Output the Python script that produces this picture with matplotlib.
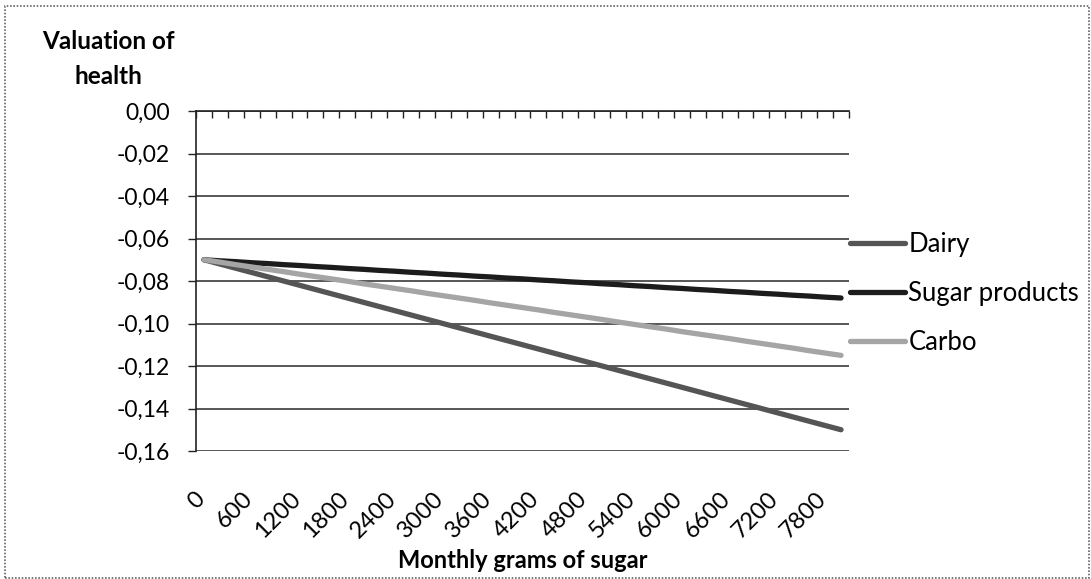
import matplotlib
matplotlib.use("Agg")
import matplotlib.pyplot as plt
from matplotlib.patches import Rectangle
from matplotlib.transforms import ScaledTranslation

# Data (monthly grams of sugar, 200 g steps)
grams = list(range(0, 8001, 200))
dairy = [-0.0700, -0.0720, -0.0740, -0.0760, -0.0780, -0.0800, -0.0820, -0.0840,
         -0.0860, -0.0880, -0.0900, -0.0920, -0.0940, -0.0960, -0.0980, -0.1000,
         -0.1020, -0.1040, -0.1060, -0.1080, -0.1100, -0.1120, -0.1140, -0.1160,
         -0.1180, -0.1200, -0.1220, -0.1240, -0.1260, -0.1280, -0.1300, -0.1320,
         -0.1340, -0.1360, -0.1380, -0.1400, -0.1420, -0.1440, -0.1460, -0.1480,
         -0.1500]
sugar_products = [-0.0700, -0.0705, -0.0709, -0.0714, -0.0718, -0.0723, -0.0727, -0.0732,
                  -0.0736, -0.0741, -0.0745, -0.0750, -0.0754, -0.0759, -0.0763, -0.0768,
                  -0.0772, -0.0777, -0.0781, -0.0786, -0.0790, -0.0795, -0.0799, -0.0804,
                  -0.0808, -0.0813, -0.0817, -0.0822, -0.0826, -0.0831, -0.0835, -0.0840,
                  -0.0844, -0.0849, -0.0853, -0.0858, -0.0862, -0.0867, -0.0871, -0.0876,
                  -0.0880]
carbo = [-0.0700, -0.0711, -0.0723, -0.0734, -0.0745, -0.0756, -0.0768, -0.0779,
         -0.0790, -0.0801, -0.0813, -0.0824, -0.0835, -0.0846, -0.0858, -0.0869,
         -0.0880, -0.0891, -0.0903, -0.0914, -0.0925, -0.0936, -0.0948, -0.0959,
         -0.0970, -0.0981, -0.0993, -0.1004, -0.1015, -0.1026, -0.1038, -0.1049,
         -0.1060, -0.1071, -0.1083, -0.1094, -0.1105, -0.1116, -0.1128, -0.1139,
         -0.1150]
y_ticks = [0.00, -0.02, -0.04, -0.06, -0.08, -0.10, -0.12, -0.14, -0.16]

plt.rcParams['font.family'] = ['Lato', 'DejaVu Sans']

fig = plt.figure(figsize=(10.91, 5.79), dpi=100)
ax = fig.add_axes([196 / 1091, 1 - 451 / 579, 653 / 1091, 340 / 579])

# categories are evenly spaced like an Excel category axis
idx = list(range(len(grams)))
ax.plot(idx, dairy, color='#555555', lw=3.8, label='Dairy', solid_capstyle='round')
ax.plot(idx, sugar_products, color='#1c1c1c', lw=3.8, label='Sugar products', solid_capstyle='round')
ax.plot(idx, carbo, color='#a5a5a5', lw=3.8, label='Carbo', solid_capstyle='round')

ax.set_xlim(-0.5, len(grams) - 0.5)
ax.set_ylim(-0.16, 0.0)
ax.set_yticks(y_ticks)
ax.set_yticklabels([f"{v:.2f}".replace('.', ',') for v in y_ticks], fontsize=16.5)
ax.yaxis.grid(True, color='#2a2a2a', lw=1.1)
ax.set_axisbelow(True)

# labels every third category, category axis drawn at y = 0 (top)
lab_idx = idx[::3]
ax.set_xticks(lab_idx)
ax.set_xticklabels([str(grams[i]) for i in lab_idx], rotation=45, ha='right', va='top', fontsize=17)
ax.set_xticks([i - 0.5 for i in idx] + [idx[-1] + 0.5], minor=True)
ax.tick_params(axis='x', which='major', bottom=False, top=False, pad=23)
ax.tick_params(axis='x', which='minor', bottom=False, top=True, direction='in', length=5, width=1, color='#222')
ax.tick_params(axis='y', length=6, width=1, color='#222', pad=13)
shift = ScaledTranslation(5 / 100, 0, fig.dpi_scale_trans)
for lab in ax.get_xticklabels():
    lab.set_transform(lab.get_transform() + shift)

for s in ['right', 'bottom']:
    ax.spines[s].set_visible(False)
for s in ['left', 'top']:
    ax.spines[s].set_color('#222')
    ax.spines[s].set_linewidth(1.2)

ax.set_xlabel('Monthly grams of sugar', fontsize=17, fontweight='bold', va='center')
ax.xaxis.set_label_coords(0.5, -(560 - 451) / 340)
fig.text(108 / 1091, 1 - 59 / 579, 'Valuation of\nhealth', ha='center', va='center',
         fontsize=17.5, fontweight='bold', linespacing=1.6)

ax.legend(loc='upper left', bbox_to_anchor=(850 / 1091, 1 - 232 / 579), bbox_transform=fig.transFigure,
          frameon=False, fontsize=18.5, handlelength=2.15, handletextpad=0.12, labelspacing=0.93,
          borderpad=0, borderaxespad=0)

fig.patches.append(Rectangle((0.005, 0.002), 0.993, 0.988, transform=fig.transFigure,
                             fill=False, edgecolor='#666', lw=1.2, ls=(0, (1, 1))))

fig.savefig('out.png', dpi=100)
